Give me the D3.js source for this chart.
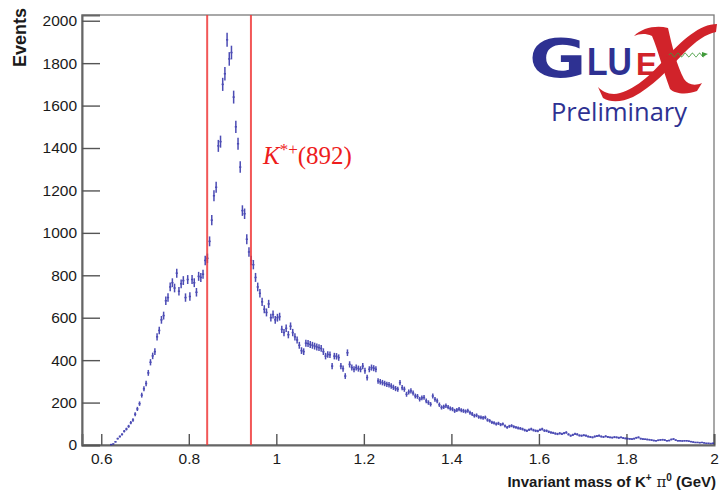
<!DOCTYPE html>
<html>
<head>
<meta charset="utf-8">
<script src="https://cdn.jsdelivr.net/npm/d3@7"></script>
<style>
body { margin: 0; background: #fff; }
svg { display: block; }
</style>
</head>
<body>
<svg id="chart" width="721" height="491"></svg>
<script>
// histogram: K+ pi0 invariant mass, 5 MeV bins starting at 0.62 GeV
var binLow = 0.62;
var binWidth = 0.005;
var counts = [
	2, 5, 15, 30, 40, 50, 65, 75, 88, 105,
	118, 145, 170, 195, 235, 265, 290, 340, 390, 420,
	440, 510, 540, 590, 610, 680, 695, 745, 765, 740,
	810, 725, 760, 775, 695, 780, 700, 780, 765, 720,
	795, 790, 805, 870, 880, 960, 1060, 1175, 1215, 1410,
	1430, 1700, 1750, 1910, 1820, 1850, 1640, 1500, 1420, 1310,
	1105, 1090, 970, 910, 870, 850, 790, 745, 715, 675,
	640, 625, 665, 600, 615, 590, 600, 605, 545, 530,
	550, 520, 560, 530, 510, 495, 470, 445, 440, 480,
	478, 474, 470, 466, 462, 459, 455, 440, 419, 427,
	425, 372, 419, 418, 412, 372, 360, 325, 435, 380,
	365, 357, 365, 360, 357, 372, 350, 318, 357, 365,
	362, 357, 302, 298, 294, 290, 286, 284, 278, 272,
	266, 263, 294, 270, 263, 239, 250, 255, 245, 231,
	229, 216, 222, 224, 208, 200, 192, 231, 215, 208,
	190, 177, 180, 185, 178, 172, 169, 161, 165, 169,
	164, 161, 158, 161, 152, 146, 138, 140, 132, 130,
	128, 130, 118, 114, 107, 104, 99, 102, 96, 99,
	90, 83, 88, 91, 86, 83, 80, 78, 75, 70,
	67, 72, 75, 70, 67, 66, 72, 75, 68, 67,
	62, 59, 57, 54, 52, 55, 52, 56, 59, 50,
	44, 48, 52, 50, 45, 44, 46, 44, 40, 38,
	36, 40, 42, 44, 40, 38, 41, 38, 36, 35,
	37, 36, 34, 36, 33, 31, 30, 29, 28, 30,
	34, 36, 30, 28, 27, 26, 25, 23, 21, 20,
	22, 24, 25, 23, 20, 21, 26, 28, 23, 20,
	20, 19, 20, 20, 18, 16, 14, 12, 12, 11,
	12, 10, 8, 8, 7, 8
];
var errScale = 0.75; // bars drawn a bit smaller than plain sqrt(N)
var xMajor = [0.6, 0.8, 1.0, 1.2, 1.4, 1.6, 1.8, 2.0];
var xMajorLabels = ["0.6", "0.8", "1", "1.2", "1.4", "1.6", "1.8", "2"];
var yMajor = [0, 200, 400, 600, 800, 1000, 1200, 1400, 1600, 1800, 2000];
var windowEdges = [0.842, 0.942];

var svg = d3.select("#chart");
var x = d3.scaleLinear().domain([0.556, 2.0]).range([82, 714]);
var y = d3.scaleLinear().domain([0, 2027]).range([445, 15]);

var bins = counts.map(function (v, i) {
	var lo = binLow + i * binWidth;
	return { lo: lo, hi: lo + binWidth, c: lo + binWidth / 2, v: v, e: Math.sqrt(v) * errScale };
});

// minor tick values
var xMinor = d3.range(0.6, 2.0001, 0.05).filter(function (t) {
	return Math.abs(t * 5 - Math.round(t * 5)) > 1e-6;
});
var yMinor = d3.range(50, 2027, 50).filter(function (t) { return t % 200 != 0; });

// frame
svg.append("rect").attr("x", 82).attr("y", 15).attr("width", 632).attr("height", 430)
	.attr("fill", "none").attr("stroke", "#7a7a7a").attr("stroke-width", 1.3);

// axes
var gx = svg.append("g").attr("transform", "translate(0,445)");
gx.call(d3.axisBottom(x).tickValues(xMinor).tickSize(-5.5).tickFormat(""));
gx.call(d3.axisBottom(x).tickValues(xMajor).tickSize(-11).tickPadding(8)
	.tickFormat(function (d, i) { return xMajorLabels[i]; }));
var gy = svg.append("g").attr("transform", "translate(82,0)");
gy.call(d3.axisLeft(y).tickValues(yMinor).tickSize(-9).tickFormat(""));
gy.call(d3.axisLeft(y).tickValues(yMajor).tickSize(-18).tickPadding(5).tickFormat(d3.format("d")));
svg.selectAll(".domain").attr("stroke", "#666").attr("stroke-width", 2);
svg.selectAll(".tick line").attr("stroke", "#555").attr("stroke-width", 1.4);
svg.selectAll(".tick text").attr("font-family", "'Liberation Sans', Arial, sans-serif")
	.attr("font-size", 15.5).attr("fill", "#1a1a1a");

// histogram with error bars
var hist = svg.append("g").attr("stroke", "#2d2da8").attr("stroke-width", 1.5).attr("opacity", 0.85);
hist.selectAll("line.h").data(bins).enter().append("line").attr("class", "h")
	.attr("x1", function (d) { return x(d.lo); }).attr("x2", function (d) { return x(d.hi); })
	.attr("y1", function (d) { return y(d.v); }).attr("y2", function (d) { return y(d.v); });
hist.selectAll("line.v").data(bins).enter().append("line").attr("class", "v")
	.attr("x1", function (d) { return x(d.c); }).attr("x2", function (d) { return x(d.c); })
	.attr("y1", function (d) { return y(Math.max(0, d.v - d.e)); })
	.attr("y2", function (d) { return y(d.v + d.e); });

// mass window
svg.selectAll("line.win").data(windowEdges).enter().append("line").attr("class", "win")
	.attr("x1", function (d) { return x(d); }).attr("x2", function (d) { return x(d); })
	.attr("y1", 15).attr("y2", 445)
	.attr("stroke", "#f03a3a").attr("stroke-width", 2).attr("opacity", 0.85);

// K*+(892) label
var kl = svg.append("text").attr("x", 263).attr("y", 164)
	.attr("font-family", "'Liberation Serif', 'Times New Roman', serif").attr("font-size", 25).attr("fill", "#ee1c1c");
kl.append("tspan").attr("font-style", "italic").text("K");
kl.append("tspan").attr("font-size", 17).attr("dy", -9).text("*+");
kl.append("tspan").attr("dy", 9).text("(892)");

// axis titles
svg.append("text").attr("transform", "translate(26,8) rotate(-90)").attr("text-anchor", "end")
	.attr("font-family", "'Liberation Sans', Arial, sans-serif").attr("font-weight", "bold")
	.attr("font-size", 18).attr("fill", "#1a1a1a").text("Events");
var xt = svg.append("text").attr("x", 716).attr("y", 487).attr("text-anchor", "end")
	.attr("font-family", "'Liberation Sans', Arial, sans-serif").attr("font-weight", "bold")
	.attr("font-size", 15).attr("fill", "#1a1a1a");
xt.append("tspan").text("Invariant mass of K");
xt.append("tspan").attr("font-size", 10).attr("dy", -6).text("+");
xt.append("tspan").attr("font-family", "'DejaVu Serif', serif").attr("font-weight", "normal").attr("dy", 6).text(" π");
xt.append("tspan").attr("font-size", 10).attr("dy", -6).text("0");
xt.append("tspan").attr("dy", 6).text(" (GeV)");

// GlueX logo
var logo = svg.append("g");
var navy = "#2e3192", red = "#d1232a";
logo.append("text").attr("transform", "translate(529,77) scale(1.3,1)")
	.attr("font-family", "'DejaVu Sans', sans-serif").attr("font-weight", "bold")
	.attr("font-size", 54).attr("fill", navy).text("G");
var lue = logo.append("text").attr("y", 75)
	.attr("font-family", "'Liberation Sans', Arial, sans-serif").attr("font-weight", "bold");
lue.append("tspan").attr("x", 587).attr("font-size", 38).attr("fill", navy)
	.attr("textLength", 45).attr("lengthAdjust", "spacingAndGlyphs").text("LU");
lue.append("tspan").attr("x", 636).attr("font-size", 32).attr("fill", red)
	.attr("textLength", 21).attr("lengthAdjust", "spacingAndGlyphs").text("E");
// the X: two calligraphic strokes
logo.append("path").attr("fill", red)
	.attr("d", "M634,36 C642,28 656,25 668,28 C672,46 677,66 684,79 C688,85 695,86 702,83 L697,91 C687,95 675,94 670,89 C663,70 658,50 652,36 C645,33 639,34 634,36 Z");
logo.append("path").attr("fill", red)
	.attr("d", "M717,24 C700,24 682,40 664,60 C648,78 630,93 614,94 C607,94 602,91 598,87 L603,98 C611,103 622,102 633,97 C652,87 668,70 684,53 C696,41 706,34 716,32 Z");
var wave = d3.range(0, 36.01, 0.5).map(function (t) {
	return [669 + t, 55 - 1.8 * Math.sin(t / 36 * Math.PI * 10)];
});
logo.append("path").attr("d", d3.line()(wave)).attr("fill", "none").attr("stroke", "#3f9a3a").attr("stroke-width", 1);
logo.append("path").attr("d", "M702,52 L708,54 L702,57 Z").attr("fill", "#3f9a3a");
logo.append("text").attr("x", 551).attr("y", 121)
	.attr("font-family", "'Open Sans', 'Noto Sans', sans-serif").attr("font-size", 25)
	.attr("fill", navy).attr("textLength", 136).attr("lengthAdjust", "spacingAndGlyphs").text("Preliminary");
</script>
</body>
</html>
